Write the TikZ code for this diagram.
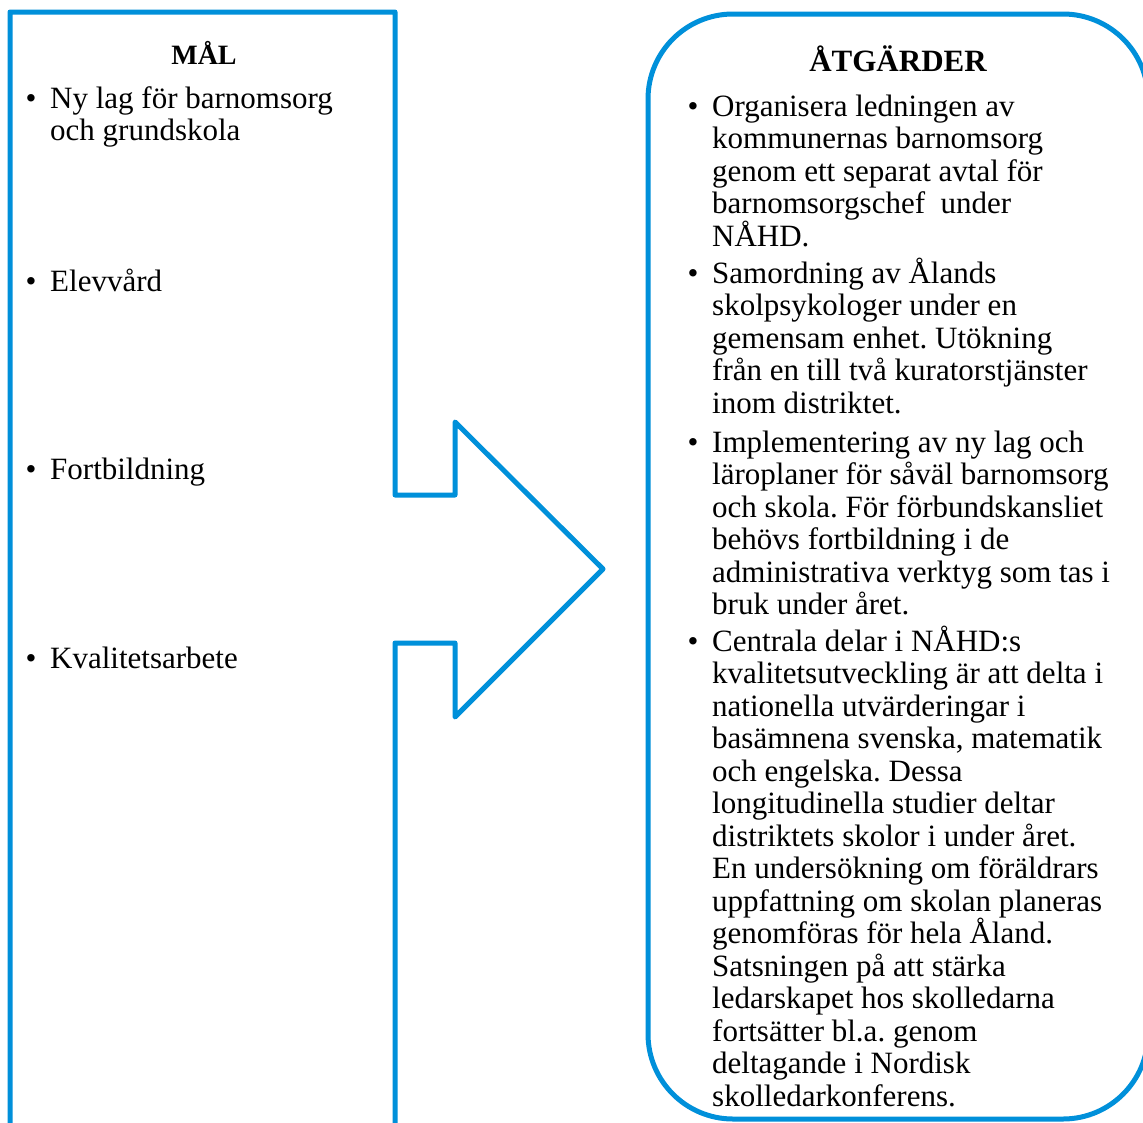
\documentclass[tikz,border=0pt]{standalone}
\usepackage{fontspec}
\setmainfont{Liberation Serif}
\definecolor{boxblue}{RGB}{0,144,218}
\frenchspacing
\newcommand{\txtlines}[1]{\vtop{\lineskiplimit=-1000pt\relax #1}}
\tikzset{
  outline/.style={draw=boxblue, line width=5pt, line join=round},
  bodytxt/.style={inner sep=0pt, anchor=base west, font=\fontsize{31}{32.5}\selectfont},
  headtxt/.style={inner sep=0pt, anchor=base, font=\bfseries\fontsize{31}{32.5}\selectfont},
  bul/.style={inner sep=0pt, anchor=base, font=\fontsize{31}{32.5}\selectfont},
}
\begin{document}
\begin{tikzpicture}[x=1pt,y=-1pt]
\useasboundingbox (0,0) rectangle (1143,1122);
\clip (0,0) rectangle (1143,1122);
\fill[white] (0,0) rectangle (1143,1122);
% left arrow shape
\coordinate (lb) at (10,1140);
\coordinate (lt) at (10,12);
\coordinate (rt) at (395,12);
\coordinate (n1) at (395,495);
\coordinate (n2) at (455,495);
\coordinate (n3) at (455,422);
\coordinate (tip) at (603,569);
\coordinate (n4) at (455,717);
\coordinate (n5) at (455,643);
\coordinate (n6) at (395,643);
\coordinate (rb) at (395,1140);
\draw[outline] (lb) -- (lt) -- (rt) -- (n1) -- (n2) -- (n3) -- (tip) -- (n4) -- (n5) -- (n6) -- (rb);
% right rounded box
\coordinate (bx1) at (648,1119);
\coordinate (bx2) at (1148,14);
\draw[outline, rounded corners=85pt] (bx1) rectangle (bx2);
% left texts
\node[headtxt, font=\bfseries\fontsize{28}{32.5}\selectfont] (mal) at (204,64) {MÅL};
\node[bul] (b1) at (31,108) {•};
\node[bodytxt] (m1) at (50,108) {\txtlines{\hbox{Ny lag för barnomsorg}\hbox{och grundskola}}};
\node[bul] (b2) at (31,291) {•};
\node[bodytxt] (m2) at (50,291) {Elevvård};
\node[bul] (b3) at (31,479) {•};
\node[bodytxt] (m3) at (50,479) {Fortbildning};
\node[bul] (b4) at (31,668) {•};
\node[bodytxt] (m4) at (50,668) {Kvalitetsarbete};
% right texts
\node[headtxt] (atg) at (898,71) {ÅTGÄRDER};
\node[bul] (c1) at (693,116) {•};
\node[bodytxt] (a1) at (712,116) {\txtlines{%
\hbox{Organisera ledningen av}%
\hbox{kommunernas barnomsorg}%
\hbox{genom ett separat avtal för}%
\hbox{barnomsorgschef\ \ under}%
\hbox{NÅHD.}}};
\node[bul] (c2) at (693,283) {•};
\node[bodytxt] (a2) at (712,283) {\txtlines{%
\hbox{Samordning av Ålands}%
\hbox{skolpsykologer under en}%
\hbox{gemensam enhet. Utökning}%
\hbox{från en till två kuratorstjänster}%
\hbox{inom distriktet.}}};
\node[bul] (c3) at (693,452) {•};
\node[bodytxt] (a3) at (712,452) {\txtlines{%
\hbox{Implementering av ny lag och}%
\hbox{läroplaner för såväl barnomsorg}%
\hbox{och skola. För förbundskansliet}%
\hbox{behövs fortbildning i de}%
\hbox{administrativa verktyg som tas i}%
\hbox{bruk under året.}}};
\node[bul] (c4) at (693,651) {•};
\node[bodytxt] (a4) at (712,651) {\txtlines{%
\hbox{Centrala delar i NÅHD:s}%
\hbox{kvalitetsutveckling är att delta i}%
\hbox{nationella utvärderingar i}%
\hbox{basämnena svenska, matematik}%
\hbox{och engelska. Dessa}%
\hbox{longitudinella studier deltar}%
\hbox{distriktets skolor i under året.}%
\hbox{En undersökning om föräldrars}%
\hbox{uppfattning om skolan planeras}%
\hbox{genomföras för hela Åland.}%
\hbox{Satsningen på att stärka}%
\hbox{ledarskapet hos skolledarna}%
\hbox{fortsätter bl.a. genom}%
\hbox{deltagande i Nordisk}%
\hbox{skolledarkonferens.}}};
\end{tikzpicture}
\end{document}
